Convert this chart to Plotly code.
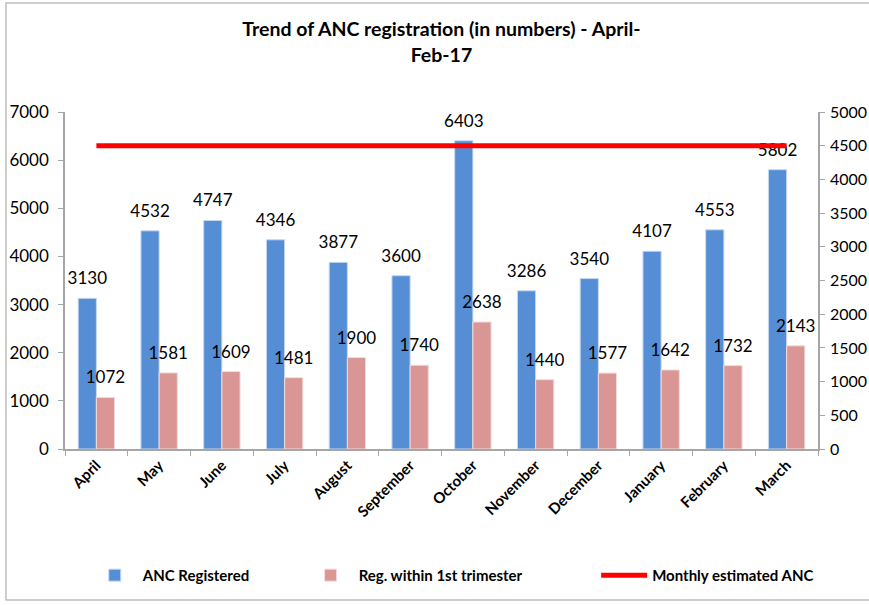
import plotly.graph_objects as go

months = ["April", "May", "June", "July", "August", "September", "October",
          "November", "December", "January", "February", "March"]
anc_registered = [3130, 4532, 4747, 4346, 3877, 3600, 6403, 3286, 3540, 4107, 4553, 5802]
first_trimester = [1072, 1581, 1609, 1481, 1900, 1740, 2638, 1440, 1577, 1642, 1732, 2143]
monthly_estimated = [4500] * 12

BLUE = "#558ED5"
PINK = "#D99694"
RED = "#FF0000"
FONT = "Lato"
NB = "\u00a0"  # used to widen legend spacing like the original
BARGAP = 0.42

W, H = 869, 605
ML, MR, MT, MB = 65, 51, 112, 156
PW, PH = W - ML - MR, H - MT - MB

idx = list(range(len(months)))
half = (1 - BARGAP) / 4  # offset of each bar centre from the category centre

fig = go.Figure()

fig.add_trace(go.Bar(
    x=months, y=anc_registered, name="ANC Registered" + NB * 13,
    marker=dict(color=BLUE, line=dict(color="#C6D9F1", width=1)),
    hoverinfo="x+y",
))
fig.add_trace(go.Bar(
    x=months, y=first_trimester, name="Reg. within 1st trimester" + NB * 19,
    marker=dict(color=PINK, line=dict(color="#F2DCDB", width=1)),
    hoverinfo="x+y",
))

# value labels (overlay numeric x axis so they sit over their bars)
for xs, ys in [([i - half for i in idx], anc_registered),
               ([i + half for i in idx], first_trimester)]:
    fig.add_trace(go.Scatter(
        x=xs, y=ys, xaxis="x2", yaxis="y",
        mode="markers+text", text=[str(v) for v in ys],
        textposition="top center", marker=dict(size=14, opacity=0),
        textfont=dict(family=FONT, size=17, color="black"), cliponaxis=False,
        showlegend=False, hoverinfo="skip",
    ))

fig.add_trace(go.Scatter(
    x=idx, y=monthly_estimated, xaxis="x2", yaxis="y2",
    mode="lines", name="Monthly estimated ANC",
    line=dict(color=RED, width=5),
))

fig.update_layout(
    width=W, height=H,
    margin=dict(l=ML, r=MR, t=MT, b=MB, autoexpand=False),
    paper_bgcolor="white", plot_bgcolor="white",
    font=dict(family=FONT, size=17, color="black"),
    title=dict(
        text="<b>Trend of ANC registration (in numbers) - April-<br>Feb-17</b>",
        x=0.508, xanchor="center", y=0.94, yanchor="top",
        font=dict(family=FONT, size=19.5),
    ),
    barmode="group", bargap=BARGAP, bargroupgap=0,
    xaxis=dict(
        type="category", showline=True, linecolor="#A6A6A6", linewidth=1.5,
        ticks="outside", tickson="boundaries", ticklen=5, tickcolor="#A6A6A6",
        tickangle=-45, tickfont=dict(family=FONT, size=15, weight="bold"),
        showgrid=False, automargin=False,
    ),
    xaxis2=dict(
        overlaying="x", range=[-0.5, len(months) - 0.5], visible=False,
    ),
    yaxis=dict(
        range=[0, 7000], dtick=1000, showline=True, linecolor="#A6A6A6",
        linewidth=1.5, ticks="outside", ticklen=5, tickcolor="#A6A6A6",
        showgrid=False, zeroline=False, tickfont=dict(family=FONT, size=17),
        ticklabelstandoff=6, automargin=False,
    ),
    yaxis2=dict(
        range=[0, 5000], dtick=500, overlaying="y", side="right",
        showline=True, linecolor="#A6A6A6", linewidth=1.5, ticks="outside",
        ticklen=5, tickcolor="#A6A6A6", showgrid=False, zeroline=False,
        tickfont=dict(family=FONT, size=16), ticklabelstandoff=2,
        automargin=False,
    ),
    legend=dict(
        orientation="h", x=0.515, xanchor="center", y=-0.375, yanchor="middle",
        font=dict(family=FONT, size=15, weight="bold"),
        traceorder="normal", itemwidth=46,
    ),
    shapes=[dict(
        type="rect", xref="paper", yref="paper",
        x0=(6 - ML) / PW, x1=(W + 20 - ML) / PW,
        y0=(H - MB - 600) / PH, y1=(H - MB - 3) / PH,
        line=dict(color="#BFBFBF", width=1.5), fillcolor="rgba(0,0,0,0)",
        layer="below",
    )],
)

fig.write_html(
    "out.html",
    config=dict(displayModeBar=False),
    post_script="document.body.style.margin='0';document.body.style.overflow='hidden';",
)
